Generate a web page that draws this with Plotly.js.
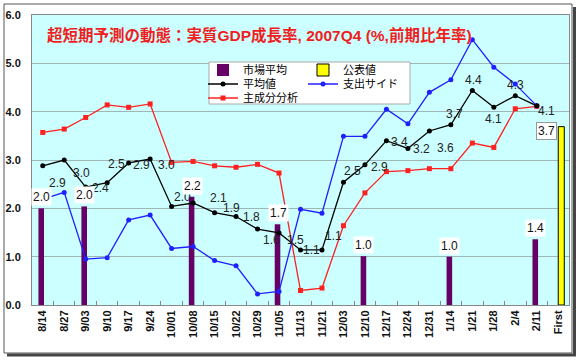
<!DOCTYPE html>
<html><head><meta charset="utf-8">
<script src="https://cdn.plot.ly/plotly-3.0.1.min.js"></script>
<style>html,body{margin:0;padding:0;background:#fff}</style>
</head><body><div id="chart" style="width:579px;height:360px"></div>
<script>
// ---- data ----
const categories = ['8/14','8/27','9/03','9/10','9/17','9/24','10/01','10/08','10/15','10/22','10/29','11/05','11/13','11/21','12/03','12/10','12/17','12/24','12/31','1/14','1/21','1/28','2/4','2/11','First'];
const seriesNames = ['市場平均','公表値','平均値','支出サイド','主成分分析'];
const marketAvg   = [2.0,null,2.04,null,null,null,null,2.24,null,null,null,1.67,null,null,null,1.01,null,null,null,1.0,null,null,null,1.36,null];
const official    = [null,null,null,null,null,null,null,null,null,null,null,null,null,null,null,null,null,null,null,null,null,null,null,null,3.69];
const average     = [2.88,3.00,2.44,2.53,2.94,3.02,2.04,2.11,1.91,1.83,1.57,1.49,1.14,1.14,2.54,2.90,3.40,3.24,3.60,3.73,4.44,4.09,4.33,4.12,null];
const expenditure = [2.19,2.33,0.95,0.98,1.76,1.86,1.17,1.21,0.92,0.81,0.23,0.28,1.98,1.90,3.49,3.49,4.05,3.75,4.40,4.66,5.49,4.92,4.57,4.12,null];
const principal   = [3.57,3.64,3.88,4.14,4.09,4.16,2.95,2.97,2.88,2.85,2.91,2.73,0.30,0.35,1.64,2.32,2.76,2.78,2.82,2.82,3.35,3.26,4.06,4.11,null];
const yTicks = [0,1,2,3,4,5,6];
const titleText = '超短期予測の動態：実質GDP成長率, 2007Q4 (%,前期比年率)';

// ---- label placement (pixels, style only) ----
const avgLabelDx = [15,17,15,9,13,16,11,25,17,15,14,16,11,12,9,15,13,14,16,4,1,0,0,10];
const avgLabelDy = [17,13,1,-19,2,6,-9,-5,-5,0,11,7,0,-14,-11,2,1,1,17,-11,-10,12,-11,5];

const FONT = 'Liberation Sans, Arial, Noto Sans CJK JP, sans-serif';
const CJK = 'Liberation Sans, Arial, Noto Sans CJK JP, sans-serif';

const traces = [
  {type:'bar', name:seriesNames[0], x:categories, y:marketAvg, marker:{color:'#660066'},
   width:0.26, offset:-0.2, legend:'legend', hoverinfo:'skip'},
  {type:'bar', name:seriesNames[1], x:categories, y:official, marker:{color:'#ffff00', line:{color:'#000', width:1}},
   width:0.28, offset:0.0, legend:'legend', hoverinfo:'skip'},
  {type:'scatter', mode:'lines+markers', name:seriesNames[4], x:categories, y:principal,
   line:{color:'#ff2020', width:1.3}, marker:{symbol:'square', size:5, color:'#ff2020'}, legend:'legend3'},
  {type:'scatter', mode:'lines+markers', name:seriesNames[3], x:categories, y:expenditure,
   line:{color:'#2020ff', width:1.3}, marker:{symbol:'circle', size:5, color:'#2020ff'}, legend:'legend2'},
  {type:'scatter', mode:'lines+markers', name:seriesNames[2], x:categories, y:average,
   line:{color:'#000000', width:1.3}, marker:{symbol:'circle', size:5, color:'#000000'}, legend:'legend2'}
];

// legend order within rows
traces[0].legendrank = 1; traces[1].legendrank = 2;
traces[4].legendrank = 1; traces[3].legendrank = 2;

const annotations = [];
average.forEach((v,i)=>{
  if(v===null) return;
  annotations.push({x:categories[i], y:v, xref:'x', yref:'y', text:v.toFixed(1), showarrow:false,
    xshift:avgLabelDx[i], yshift:-avgLabelDy[i], font:{family:FONT, size:12, color:'#222'}});
});
marketAvg.forEach((v,i)=>{
  if(v===null) return;
  annotations.push({x:categories[i], y:v, xref:'x', yref:'y', text:v.toFixed(1), showarrow:false,
    yanchor:'bottom', yshift:2, xshift:-1, bgcolor:'#ffffff', borderpad:1,
    font:{family:FONT, size:12, color:'#111'}});
});
official.forEach((v,i)=>{
  if(v===null) return;
  annotations.push({x:categories[i], y:v, xref:'x', yref:'y', text:v.toFixed(1), showarrow:false,
    yanchor:'middle', yshift:-4, xshift:-12, bgcolor:'#ffffff', bordercolor:'#999', borderwidth:1, borderpad:1,
    font:{family:FONT, size:12, color:'#111'}});
});

// pixel->paper helpers for decorative frame/legend box
const L=32, T=15, W=537, H=290;
const px = p => (p-L)/W;
const py = p => (T+H-p)/H;

const shapes = [
  {type:'rect', xref:'paper', yref:'paper', x0:px(4), x1:px(572), y0:py(353), y1:py(4), line:{color:'#555', width:1}, layer:'above'},
  {type:'line', xref:'paper', yref:'paper', x0:px(574.5), x1:px(574.5), y0:py(7), y1:py(356), line:{color:'#444', width:3}},
  {type:'line', xref:'paper', yref:'paper', x0:px(7), x1:px(576), y0:py(355), y1:py(355), line:{color:'#444', width:3}},
  {type:'rect', xref:'paper', yref:'paper', x0:px(209), x1:px(410), y0:py(104), y1:py(62), fillcolor:'#ffffff', line:{color:'#aaa', width:1}, layer:'above'}
];

const legendBase = {orientation:'h', bgcolor:'rgba(0,0,0,0)', borderwidth:0, xanchor:'left', yanchor:'middle',
  entrywidthmode:'pixels', entrywidth:55, traceorder:'normal', font:{family:CJK, size:11, color:'#000'}, itemwidth:30};

const layout = {
  width:579, height:360,
  margin:{l:L, r:579-L-W, t:T, b:360-T-H, pad:0},
  paper_bgcolor:'#ffffff', plot_bgcolor:'#ccffff',
  barmode:'overlay',
  showlegend:true,
  title:{text:'<b>'+titleText+'</b>', xref:'paper', yref:'paper', x:px(47), xanchor:'left', y:py(36), yanchor:'middle',
    font:{family:CJK, size:15.5, color:'#f01e1e'}},
  xaxis:{type:'category', categoryorder:'array', categoryarray:categories, range:[-0.5,24.5],
    tickangle:-90, ticks:'inside', tickson:'boundaries', ticklen:4, tickcolor:'#888',
    tickfont:{family:FONT, size:11, color:'#111', weight:'bold'},
    showline:true, mirror:true, linecolor:'#888', linewidth:1, showgrid:false, zeroline:false, fixedrange:true},
  yaxis:{range:[0,6], tickvals:yTicks, ticktext:yTicks.map(v=>v.toFixed(1)), ticks:'', ticklabelstandoff:8,
    tickfont:{family:FONT, size:11, color:'#111', weight:'bold'},
    showline:true, mirror:true, linecolor:'#888', linewidth:1, showgrid:true, gridcolor:'#9fb6b6', gridwidth:1,
    zeroline:false, fixedrange:true},
  legend: Object.assign({}, legendBase, {x:px(203), y:py(70)}),
  legend2: Object.assign({}, legendBase, {x:px(203), y:py(84)}),
  legend3: Object.assign({}, legendBase, {x:px(203), y:py(98)}),
  annotations: annotations,
  shapes: shapes
};

Plotly.newPlot('chart', traces, layout, {displayModeBar:false, staticPlot:true});
</script>
</body></html>
